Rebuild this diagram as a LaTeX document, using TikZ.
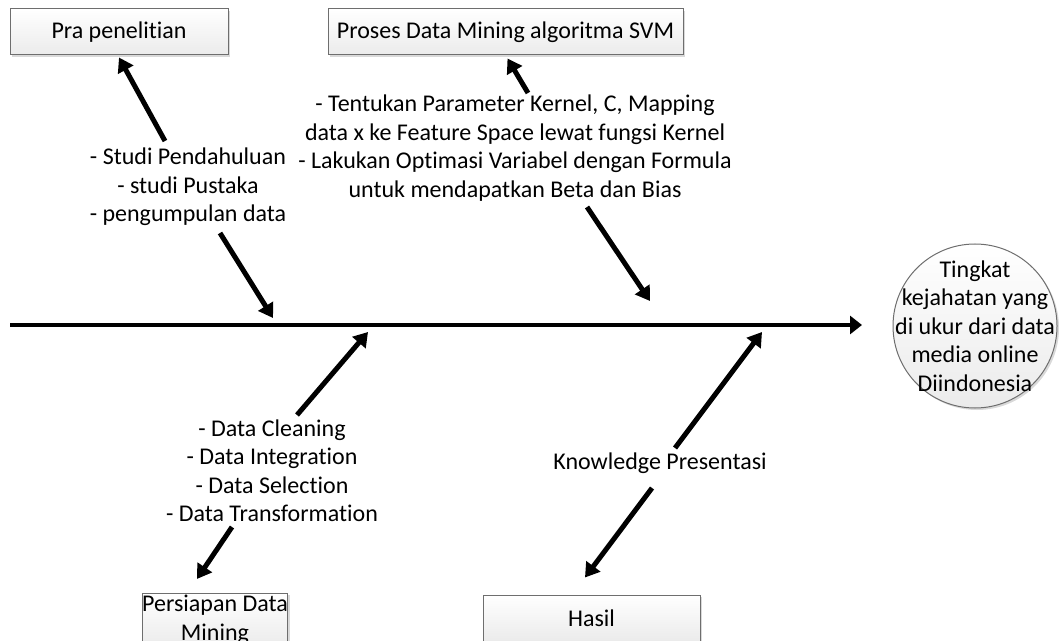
\documentclass[tikz,border=0pt]{standalone}
\usepackage{fontspec}
\setmainfont{Carlito}[Ligatures=NoCommon]
\definecolor{boxBorder}{HTML}{6E6E6E}
\definecolor{boxTop}{HTML}{FFFFFF}
\definecolor{boxBottom}{HTML}{EBEBEB}
\usepackage{tikz}
\usetikzlibrary{arrows.meta, shadows}
\newcommand{\fishFont}{\fontsize{12}{14.25}\selectfont}

\tikzset{
  causeBox/.style={draw=boxBorder, line width=0.5pt, top color=boxTop, bottom color=boxBottom,
    minimum height=23pt, inner sep=1pt, align=center, font=\fishFont,
    drop shadow={shadow xshift=1pt, shadow yshift=-1pt, opacity=0.3}},
  effectCircle/.style={circle, draw=boxBorder, line width=0.5pt, top color=boxTop, bottom color=boxBottom,
    minimum size=82pt, inner sep=0pt, drop shadow={shadow xshift=1pt, shadow yshift=-1pt, opacity=0.3}},
  causeText/.style={align=center, font=\fishFont, inner sep=0pt},
  bone/.style={line width=2.5pt, -{Triangle[length=7pt,width=8.5pt]}},
  spine/.style={line width=2.4pt, -{Triangle[length=6pt,width=9pt]}}
}

\begin{document}
\begin{tikzpicture}[x=0.5pt, y=-0.5pt]
  \useasboundingbox (0,0) rectangle (1059,641);

  % boxes and effect
  \node[causeBox, minimum width=109pt] (praBox) at (119,32) {Pra penelitian};
  \node[causeBox, minimum width=177.5pt] (svmBox) at (505.5,32) {Proses Data Mining algoritma SVM};
  \node[causeBox, minimum width=67pt, inner xsep=0pt] (prepBox) at (215,620) {Persiapan Data\\Mining};
  \node[causeBox, minimum width=108.5pt] (hasilBox) at (591.5,618) {Hasil};
  \node[effectCircle] (effect) at (975,326) {};
  \node[causeText] (effectTxt) at (effect) {Tingkat\\kejahatan yang\\di ukur dari data\\media online\\Diindonesia};

  % cause texts
  \node[causeText] (praTxt) at (188,187) {- Studi Pendahuluan\\- studi Pustaka\\- pengumpulan data};
  \node[causeText] (svmTxt) at (515,148) {- Tentukan Parameter Kernel, C, Mapping\\data x ke Feature Space lewat fungsi Kernel\\- Lakukan Optimasi Variabel dengan Formula\\untuk mendapatkan Beta dan Bias};
  \node[causeText] (prepTxt) at (272,471) {- Data Cleaning\\- Data Integration\\- Data Selection\\- Data Transformation};
  \node[causeText] (hasilTxt) at (660,463) {Knowledge Presentasi};

  % spine and joints
  \coordinate (spineTail) at (10,325);
  \coordinate (spineHead) at (862,325);
  \coordinate (praJoin) at (273,318);
  \coordinate (svmJoin) at (650,301);
  \coordinate (prepJoin) at (368,332);
  \coordinate (hasilJoin) at (762,332);
  \coordinate (praUp) at (165,141);
  \coordinate (praDown) at (220,233);
  \coordinate (svmUp) at (528,93);
  \coordinate (svmDown) at (587,207);
  \coordinate (prepUp) at (297,415);
  \coordinate (prepDown) at (232,527);
  \coordinate (hasilUp) at (675,448);
  \coordinate (hasilDown) at (652,488);

  \draw[spine] (spineTail) -- (spineHead);

  \draw[bone] (praUp) -- ([yshift=-1pt]praBox.south);
  \draw[bone] (praDown) -- (praJoin);
  \draw[bone] (svmUp) -- ([xshift=1pt,yshift=-1.5pt]svmBox.south);
  \draw[bone] (svmDown) -- (svmJoin);
  \draw[bone] (prepUp) -- (prepJoin);
  \draw[bone] (prepDown) -- ([xshift=-9pt,yshift=7pt]prepBox.north);
  \draw[bone] (hasilUp) -- (hasilJoin);
  \draw[bone] (hasilDown) -- ([xshift=-3.25pt,yshift=8.5pt]hasilBox.north);
\end{tikzpicture}
\end{document}
